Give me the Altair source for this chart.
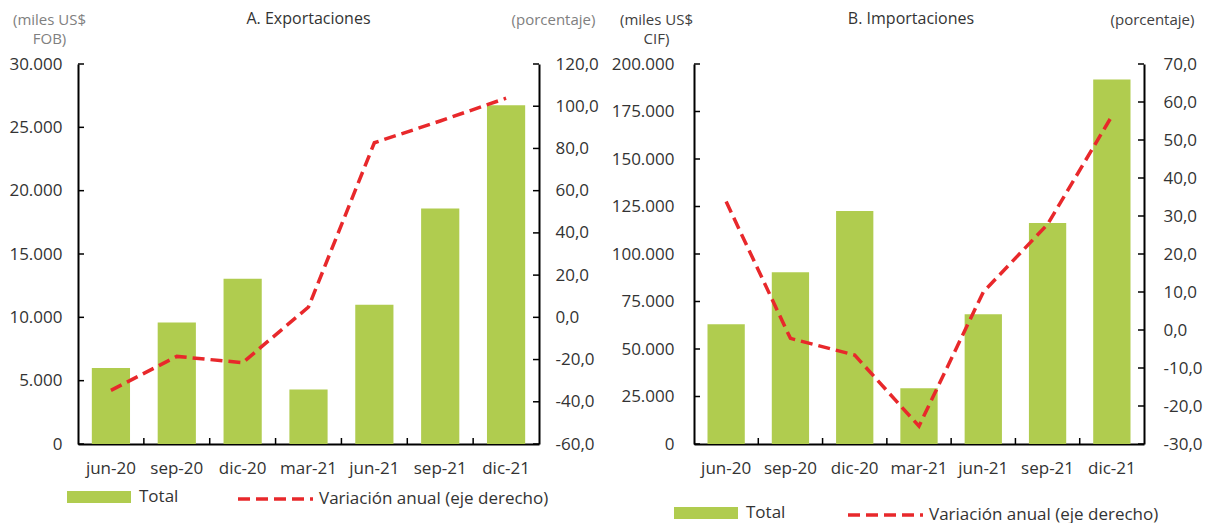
import altair as alt
import pandas as pd

cats = ["jun-20", "sep-20", "dic-20", "mar-21", "jun-21", "sep-21", "dic-21"]
exp_total = [6000, 9600, 13050, 4300, 11000, 18600, 26750]
exp_var = [-34.6, -18.5, -21.5, 4.9, 82.7, 93.0, 103.8]
imp_total = [63000, 90400, 122600, 29300, 68300, 116300, 191900]
imp_var = [33.8, -2.2, -6.6, -25.3, 10.0, 27.8, 56.3]

exp_left_ticks = [0, 5000, 10000, 15000, 20000, 25000, 30000]
exp_right_ticks = [-60, -40, -20, 0, 20, 40, 60, 80, 100, 120]
imp_left_ticks = [0, 25000, 50000, 75000, 100000, 125000, 150000, 175000, 200000]
imp_right_ticks = [-30, -20, -10, 0, 10, 20, 30, 40, 50, 60, 70]

GREEN = "#b0cc4f"
RED = "#e8282b"
FONT = "Open Sans"
H = 380
TY = -40


def panel(title, title_dx, total, var, w, ltk, rtk, ltitle, rtitle, ltx, rtx, tcolor,
          lpad_l, lpad_r, leg_bar_x, leg_line_x, leg_cy):
    df = pd.DataFrame({"periodo": cats, "total": total, "var": var,
                       "s1": "Total", "s2": "Variación anual (eje derecho)"})
    ldom = [ltk[0], ltk[-1]]
    rdom = [rtk[0], rtk[-1]]

    def xdef(bp=None):
        kw = {}
        if bp is not None:
            kw["bandPosition"] = bp
        return alt.X("periodo:N",
                     scale=alt.Scale(domain=cats, paddingInner=0, paddingOuter=0),
                     axis=alt.Axis(title=None, labelAngle=0, ticks=False,
                                   labelPadding=16, labelFontSize=17),
                     **kw)

    bars = alt.Chart(df).mark_bar(width={"band": 0.58}).encode(
        x=xdef(),
        y=alt.Y("total:Q", scale=alt.Scale(domain=ldom, nice=False, zero=False),
                axis=alt.Axis(values=ltk, format=",.0f", grid=False, ticks=False,
                              labelPadding=lpad_l, title=ltitle, titleAngle=0,
                              titleX=ltx, titleY=TY, titleAlign="center",
                              titleBaseline="alphabetic", titleColor=tcolor,
                              titleFontSize=15, titleFontWeight="normal",
                              titleLineHeight=19)),
        color=alt.Color("s1:N", scale=alt.Scale(domain=["Total"], range=[GREEN]),
                        legend=alt.Legend(title=None, orient="none",
                                          legendX=leg_bar_x, legendY=leg_cy - 32,
                                          symbolType="M-1,-0.19H1V0.19H-1Z",
                                          symbolSize=4096, symbolStrokeWidth=0,
                                          labelFontSize=17, labelColor="#333",
                                          labelOffset=8, labelLimit=300, padding=0)),
    )
    line = alt.Chart(df).mark_line(strokeDash=[12, 6], strokeWidth=3.5).encode(
        x=xdef(),
        y=alt.Y("var:Q", scale=alt.Scale(domain=rdom, nice=False, zero=False),
                axis=alt.Axis(orient="right", values=rtk, format=".1f", grid=False,
                              ticks=False, labelPadding=lpad_r, title=rtitle,
                              titleAngle=0, titleX=rtx, titleY=TY,
                              titleAlign="center", titleBaseline="alphabetic",
                              titleColor=tcolor, titleFontSize=15,
                              titleFontWeight="normal")),
        stroke=alt.Stroke("s2:N",
                          scale=alt.Scale(domain=["Variación anual (eje derecho)"], range=[RED]),
                          legend=alt.Legend(title=None, orient="none",
                                            legendX=leg_line_x, legendY=leg_cy - 37.5,
                                            symbolType="stroke", symbolSize=5625,
                                            symbolDash=[12, 6], symbolStrokeWidth=3.5,
                                            labelFontSize=17, labelColor="#333",
                                            labelOffset=4, labelLimit=300, padding=0)),
    )
    tl = alt.Chart(pd.DataFrame({"v": ltk})).mark_rule(color="black", strokeWidth=1.5).encode(
        y=alt.Y("v:Q", scale=alt.Scale(domain=ldom, nice=False, zero=False), axis=None),
        x=alt.value(0), x2=alt.value(6))
    tr = alt.Chart(pd.DataFrame({"v": rtk})).mark_rule(color="black", strokeWidth=1.5).encode(
        y=alt.Y("v:Q", scale=alt.Scale(domain=rdom, nice=False, zero=False), axis=None),
        x=alt.value(w - 6), x2=alt.value(w))
    tx = alt.Chart(pd.DataFrame({"periodo": cats[1:]})).mark_rule(color="black", strokeWidth=1.5).encode(
        x=xdef(0), y=alt.value(H - 6), y2=alt.value(H))
    tt = alt.Chart(pd.DataFrame({"t": [title]})).mark_text(
        fontSize=16, baseline="alphabetic", align="center", color="#333").encode(
        text="t:N", x=alt.value(w / 2 + title_dx), y=alt.value(TY))
    return alt.layer(bars, line, tl, tr, tx, tt).resolve_scale(
        y="independent").properties(width=w, height=H)


pA = panel("A. Exportaciones", 0, exp_total, exp_var, 461,
           exp_left_ticks, exp_right_ticks, ["(miles US$", "FOB)"], "(porcentaje)",
           -29, 14, "#808080", 16, 16, -11, 158, 433)
pB = panel("B. Importaciones", -8, imp_total, imp_var, 450,
           imp_left_ticks, imp_right_ticks, ["(miles US$", "CIF)"], "(porcentaje)",
           -38, 8, "#404040", 20, 19, -20, 152, 449)

chart = alt.hconcat(pA, pB, spacing=12).resolve_scale(
    x="independent", y="independent", color="independent", stroke="independent"
).resolve_legend(color="independent", stroke="independent").properties(
    padding={"left": 0, "top": 3, "right": 0, "bottom": 0}
).configure(
    font=FONT,
    locale={"number": {"decimal": ",", "thousands": ".", "grouping": [3],
                       "currency": ["", " US$"], "minus": "-"}},
).configure_view(stroke=None).configure_axis(
    domainColor="black", domainWidth=2, labelColor="#333", labelFontSize=17,
    labelFont=FONT, titleFont=FONT
)

chart.save("out.html", embed_options={"renderer": "svg", "actions": False})
